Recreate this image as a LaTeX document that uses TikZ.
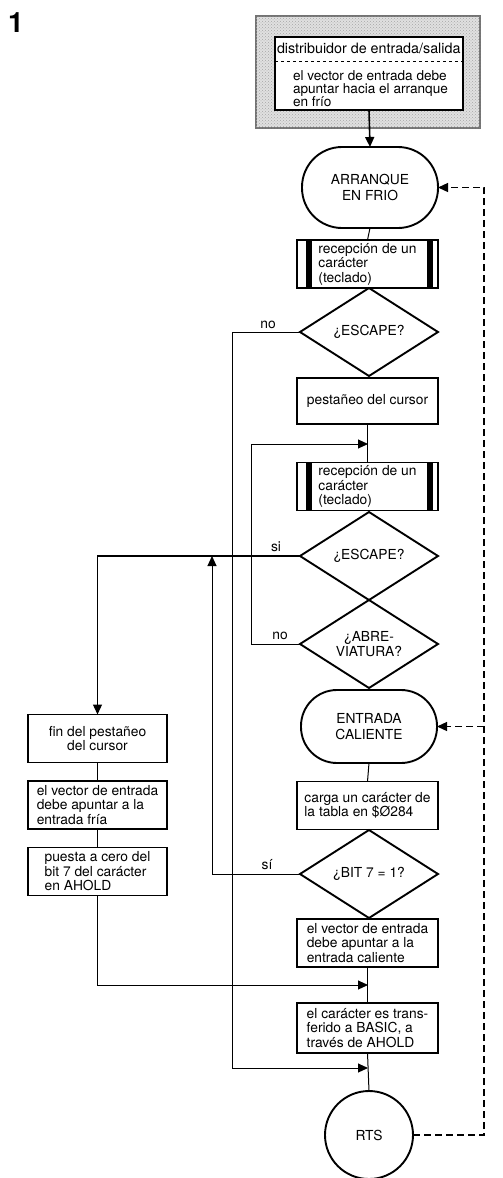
\documentclass[tikz,border=0pt]{standalone}
\usepackage{fontspec}
\setmainfont{TeX Gyre Heros}
\usetikzlibrary{shapes.geometric,arrows.meta,patterns}
\begin{document}
\begin{tikzpicture}[x=1pt,y=-1pt,
  every node/.style={font=\fontsize{13.8}{14.5}\selectfont, inner sep=0pt, outer sep=0pt},
  procbox/.style={draw, line width=1.9pt, minimum width=141pt, minimum height=48pt, align=left},
  leftbox/.style={procbox, minimum width=139pt},
  subbox/.style={procbox},
  terminal/.style={draw, line width=1.9pt, minimum width=136pt, align=center,
    font=\fontsize{13.8}{16}\selectfont},
  decision/.style={draw, diamond, line width=1.9pt, minimum width=138pt, minimum height=88pt,
    align=center, aspect=1.57, inner sep=0pt},
  conn/.style={line width=1pt},
  arrow/.style={conn, -{Triangle[length=10pt,width=9pt]}},
  back/.style={line width=1.3pt, dash pattern=on 7pt off 4pt},
  lbl/.style={font=\fontsize{13.8}{14.5}\selectfont}
]
\useasboundingbox (0,0) rectangle (503,1178);

% figure number
\node[font=\fontsize{28}{28}\selectfont\bfseries] (fignum) at (16,23) {1};

% input/output distributor, on a stippled panel
\node[minimum width=224pt, minimum height=112pt, fill=black!12, draw=black!55, line width=1.2pt]
  (panel) at (368,72) {};
\fill[pattern=crosshatch dots, pattern color=black!35] (panel.north west) rectangle (panel.south east);
\node[draw, fill=white, line width=1.9pt, minimum width=188pt, minimum height=73pt] (io) at (369,73.5) {};
\draw[dashed, line width=0.9pt] ([yshift=-24pt]io.north west) -- ([yshift=-24pt]io.north east);
\node[anchor=west, font=\fontsize{14.3}{14.5}\selectfont] (iohead) at (277,48.5) {distribuidor de entrada/salida};
\node[anchor=north west, align=left, font=\fontsize{13.6}{13}\selectfont] (iotext) at (293,71)
  {el vector de entrada debe\\apuntar hacia el arranque\\en frío};

% main column
\node[terminal, minimum height=81pt, rounded corners=40pt] (cold) at (370,187.5) {ARRANQUE\\EN FRIO};
\node[subbox] (rec1) at (367.5,264) {recepción de un\\carácter\\(teclado)};
\node[decision] (d1) at (369,332) {¿ESCAPE?};
\node[procbox, minimum height=46pt, align=center] (blink) at (367.5,401) {pestañeo del cursor};
\node[subbox] (rec2) at (367.5,486.5) {recepción de un\\carácter\\(teclado)};
\node[decision] (d2) at (369,556) {¿ESCAPE?};
\node[decision] (d3) at (369,644) {¿ABRE-\\VIATURA?};
\node[terminal, minimum height=73pt, rounded corners=36pt] (warm) at (369,726.5) {ENTRADA\\CALIENTE};
\node[procbox] (load) at (367.5,805.5) {carga un carácter de\\la tabla en \$Ø284};
\node[decision] (d4) at (369,874) {¿BIT 7 = 1?};
\node[procbox] (vwarm) at (367.5,943) {el vector de entrada\\debe apuntar a la\\entrada caliente};
\node[procbox, minimum height=50pt] (xfer) at (367.5,1028) {el carácter es trans-\\ferido a BASIC, a\\través de AHOLD};
\node[draw, circle, line width=1.9pt, minimum size=88pt] (rts) at (369,1135) {RTS};

% left column
\node[leftbox, align=center] (endblink) at (97.5,738.5) {fin del pestañeo\\del cursor};
\node[leftbox] (vcold) at (97.5,805) {el vector de entrada\\debe apuntar a la\\entrada fría};
\node[leftbox] (clr) at (97.5,871.5) {puesta a cero del\\bit 7 del carácter\\en AHOLD};

% bars of the predefined-process boxes
\foreach \b in {rec1,rec2}{
  \fill ([xshift=9pt]\b.north west) rectangle ([xshift=14.5pt]\b.south west);
  \fill ([xshift=-11pt]\b.north east) rectangle ([xshift=-5.5pt]\b.south east);
}

% junction points on the main column
\coordinate (j1) at (368,444);
\coordinate (j2) at (368,985);
\coordinate (j3) at (368,1068);
\coordinate (xno) at (232,0);
\coordinate (xloop) at (251,0);
\coordinate (xup) at (212,0);
\coordinate (xdash) at (484,0);

% straight flow
\draw[arrow, line width=1.6pt] (io.south) -- (cold.north);
\draw[conn] (cold.south) -- (rec1.north);
\draw[conn] (blink.south) -- (rec2.north);
\draw[conn] (warm.south) -- (load.north);
\draw[conn] (vwarm.south) -- (xfer.north);
\draw[conn] (xfer.south) -- (rts.north);
\draw[conn] (endblink.south) -- (vcold.north);
\draw[conn] (vcold.south) -- (clr.north);

% branches
\draw[arrow] (d1.west) -| (xno |- j3) -- (j3);
\draw[arrow, line width=1.3pt] (d2.west) -| (endblink.north);
\draw[arrow] (d3.west) -| (xloop |- j1) -- (j1);
\draw[arrow] (d4.west) -| (xup |- d2.west);
\draw[arrow] (clr.south) |- (j2);

% branch labels
\node[lbl] (lno1) at (268,325) {no};
\node[lbl] (lsi1) at (276,547) {si};
\node[lbl] (lno2) at (280,636) {no};
\node[lbl] (lsi2) at (267,865) {sí};

% return paths
\draw[back, -{Triangle[length=10pt,width=9pt]}] (rts.east) -| (xdash |- cold.east) -- (cold.east);
\draw[back, -{Triangle[length=10pt,width=9pt]}] (xdash |- warm.east) -- (warm.east);
\end{tikzpicture}
\end{document}
